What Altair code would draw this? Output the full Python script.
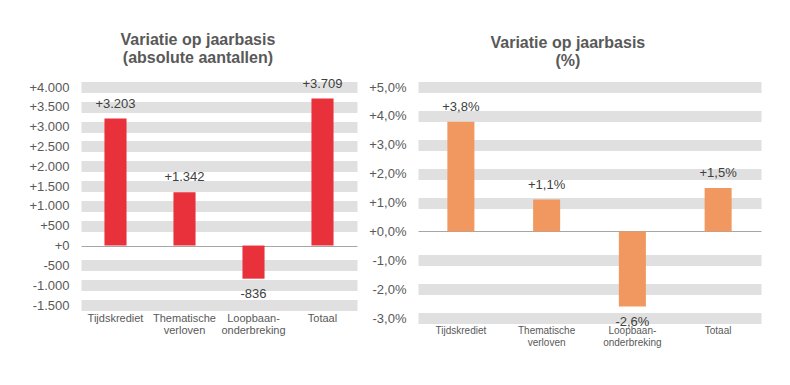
import altair as alt
import pandas as pd

# ---- data ----
categories = ["Tijdskrediet", "Thematische|verloven", "Loopbaan-|onderbreking", "Totaal"]
abs_values = [3203, 1342, -836, 3709]
pct_values = [3.8, 1.1, -2.6, 1.5]

abs_ticks = [-1500, -1000, -500, 0, 500, 1000, 1500, 2000, 2500, 3000, 3500, 4000]
pct_ticks = [-3, -2, -1, 0, 1, 2, 3, 4, 5]

abs_title = ["Variatie op jaarbasis", "(absolute aantallen)"]
pct_title = ["Variatie op jaarbasis", "(%)"]

FONT = "Liberation Sans"
GREY_TXT = "#595959"
DARK_TXT = "#404040"

abs_fmt = "(X < 0 ? '-' : '+') + replace(format(abs(X), ','), ',', '.')"
pct_fmt = "(X < 0 ? '-' : '+') + replace(format(abs(X), '.1f'), '.', ',') + '%'"


def panel(vals, ticks, fmt, color, title, width, height, pad, xfont, xlh, neg_dy, title_dx):
    df = pd.DataFrame({"cat": categories, "v": vals})
    base = alt.Chart(df).transform_calculate(label=fmt.replace("X", "datum.v"))
    x = alt.X(
        "cat:N",
        sort=categories,
        scale=alt.Scale(paddingInner=pad, paddingOuter=pad / 2),
        axis=alt.Axis(
            title=None,
            labelAngle=0,
            labelExpr="split(datum.label, '|')",
            domain=False,
            ticks=False,
            labelPadding=7,
            labelFontSize=xfont,
            labelLineHeight=xlh,
            labelColor=GREY_TXT,
            labelFont=FONT,
            labelBaseline="top",
            labelOverlap=False,
        ),
    )
    y = alt.Y(
        "v:Q",
        scale=alt.Scale(domain=[ticks[0], ticks[-1]], nice=False),
        axis=alt.Axis(
            title=None,
            values=ticks,
            labelExpr=fmt.replace("X", "datum.value"),
            domain=False,
            ticks=False,
            tickSize=0,
            labelPadding=12,
            labelFontSize=13,
            labelColor=GREY_TXT,
            labelFont=FONT,
            labelOverlap=False,
            labelFlush=False,
            gridColor={"condition": {"test": "datum.value === 0", "value": "#A6A6A6"}, "value": "#E0E0E0"},
            gridWidth={"condition": {"test": "datum.value === 0", "value": 1}, "value": 11},
            gridOpacity=1,
        ),
    )
    bars = base.mark_bar(color=color).encode(x=x, y=y)
    pos = base.transform_filter("datum.v >= 0").mark_text(
        dy=-15, fontSize=13, color=DARK_TXT, font=FONT, baseline="middle"
    ).encode(x=x, y=y, text="label:N")
    neg = base.transform_filter("datum.v < 0").mark_text(
        dy=neg_dy, fontSize=13, color=DARK_TXT, font=FONT, baseline="middle"
    ).encode(x=x, y=y, text="label:N")
    return alt.layer(bars, pos, neg).properties(
        width=width,
        height=height,
        title=alt.TitleParams(
            text=title,
            fontSize=16,
            fontWeight="bold",
            color=GREY_TXT,
            font=FONT,
            anchor="middle",
            frame="bounds",
            lineHeight=18,
            offset=12,
            dx=title_dx,
        ),
    )


left = panel(abs_values, abs_ticks, abs_fmt, "#E8313A", abs_title, 276, 218, 0.68, 11, 12.5, 15, 5)
right = panel(pct_values, pct_ticks, pct_fmt, "#F0985F", pct_title, 343, 231, 0.685, 10, 12, 16, 3)

chart = (
    alt.hconcat(left, right, spacing=11)
    .properties(padding={"left": 20, "top": 23, "right": 5, "bottom": 5}, background="white")
    .configure_view(strokeWidth=0)
)

chart.save("out.html", embed_options={"renderer": "svg", "actions": False})
